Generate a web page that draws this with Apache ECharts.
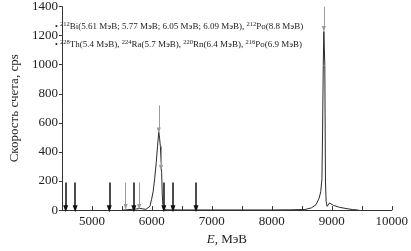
<!DOCTYPE html>
<html>
<head>
<meta charset="utf-8">
<script src="https://cdn.jsdelivr.net/npm/echarts@6/dist/echarts.min.js"></script>
<style>html,body{margin:0;padding:0;background:#fff}#c{width:411px;height:251px}</style>
</head>
<body>
<div id="c"></div>
<script>
// Spectrum (energy channel, count rate)
const energy = [5520, 5600, 5700, 5750, 5800, 5850, 5900, 5930, 5968, 5994, 6021, 6047, 6073, 6095, 6115, 6130, 6142, 6163, 6174, 6183, 6194, 6250, 6500, 7000, 7500, 8000, 8300, 8552, 8658, 8737, 8789, 8816, 8836, 8847, 8858, 8868, 8884, 8890, 8895, 8906, 8922, 8963, 9026, 9131, 9237, 9341, 9447];
const counts = [0, 3, 6, 8, 12, 8, 5, 10, 26, 71, 126, 216, 327, 440, 538, 490, 438, 260, 104, 37, 5, 2, 1, 1, 1, 1, 2, 4, 15, 37, 82, 126, 216, 551, 995, 1228, 995, 551, 193, 60, 26, 49, 33, 19, 11, 4, 0];
// Black arrows (228Th chain lines)
const thArrowE = [4563, 4721, 5290, 5700, 6200, 6352, 6736];
const thArrowTop = 190, thArrowTip = 10;
// Grey short arrows (212Bi lines)
const biArrowE = [5563, 5788];
const biArrowTop = 190, biArrowTip = 22;
// Grey arrows at peaks
const peakArrowE = [6115, 6152, 8868];
const peakArrowTop = [720, 440, 1400];
const peakArrowTip = [548, 290, 1245];
const xTicks = [5000, 6000, 7000, 8000, 9000, 10000];
const yTicks = [0, 200, 400, 600, 800, 1000, 1200, 1400];
const legendLine1 = '{d|•} {s|212}Bi(5.61 МэВ; 5.77 МэВ; 6.05 МэВ; 6.09 МэВ), {s|212}Po(8.8 МэВ)';
const legendLine2 = '{b|•} {s|228}Th(5.4 МэВ), {s|224}Ra(5.7 МэВ), {s|220}Rn(6.4 МэВ), {s|216}Po(6.9 МэВ)';

const FF = 'Liberation Serif';
const chart = echarts.init(document.getElementById('c'), null, {renderer: 'canvas'});

const thLines = thArrowE.map(e => [{coord: [e, thArrowTop]}, {coord: [e, thArrowTip]}]);
const biLines = biArrowE.map(e => [{coord: [e, biArrowTop]}, {coord: [e, biArrowTip]}]);
const pkLines = peakArrowE.map((e, i) => [{coord: [e, peakArrowTop[i]]}, {coord: [e, peakArrowTip[i]]}]);

const richCommon = {
  s: {fontSize: 6.5, fontFamily: FF, color: '#222', verticalAlign: 'top', padding: [0, 0, 4, 0]},
  d: {fontSize: 8, color: '#999', fontFamily: FF},
  b: {fontSize: 8, color: '#111', fontFamily: FF}
};

chart.setOption({
  animation: false,
  textStyle: {fontFamily: FF},
  grid: {left: 47, right: 16, top: 6, bottom: 35.5, containLabel: false},
  xAxis: {
    type: 'value', min: 4500, max: 10000, interval: 500,
    name: '{i|E}, МэВ', nameLocation: 'middle', nameGap: 20,
    nameTextStyle: {fontFamily: FF, fontSize: 13, color: '#222', rich: {i: {fontStyle: 'italic', fontFamily: FF, fontSize: 13, color: '#222'}}},
    axisLine: {lineStyle: {color: '#333', width: 1}},
    axisTick: {inside: true, length: 4, lineStyle: {color: '#333'}},
    axisLabel: {margin: 5, fontFamily: FF, fontSize: 13, color: '#222',
      formatter: v => xTicks.includes(v) ? String(v) : ''},
    splitLine: {show: false}
  },
  yAxis: {
    type: 'value', min: 0, max: 1400, interval: 200,
    name: 'Скорость счета, cps', nameLocation: 'middle', nameGap: 33,
    nameTextStyle: {fontFamily: FF, fontSize: 13, color: '#222'},
    axisLine: {show: true, lineStyle: {color: '#333', width: 1}},
    axisTick: {show: true, inside: false, length: 3, lineStyle: {color: '#333'}},
    axisLabel: {margin: 4, fontFamily: FF, fontSize: 13, color: '#222',
      formatter: v => yTicks.includes(v) ? String(v) : ''},
    splitLine: {show: false}
  },
  series: [
    {
      type: 'line', data: energy.map((e, i) => [e, counts[i]]),
      showSymbol: false, smooth: false,
      lineStyle: {color: '#2a2a2a', width: 1}, silent: true
    },
    {
      type: 'line', data: [], silent: true,
      markLine: {silent: true, symbol: ['none', 'triangle'], symbolSize: [5, 7],
        label: {show: false}, lineStyle: {color: '#111', width: 1.5, type: 'solid'},
        emphasis: {disabled: true}, data: thLines}
    },
    {
      type: 'line', data: [], silent: true,
      markLine: {silent: true, symbol: ['none', 'triangle'], symbolSize: [4, 6],
        label: {show: false}, lineStyle: {color: '#9a9a9a', width: 1, type: 'solid'},
        emphasis: {disabled: true}, data: biLines.concat(pkLines)}
    }
  ],
  graphic: [
    {type: 'text', left: 55, top: 21, silent: true,
      style: {text: legendLine1, fontFamily: FF, fontSize: 9, fill: '#222', rich: richCommon}},
    {type: 'text', left: 55, top: 39, silent: true,
      style: {text: legendLine2, fontFamily: FF, fontSize: 9, fill: '#222', rich: richCommon}}
  ]
});
</script>
</body>
</html>
